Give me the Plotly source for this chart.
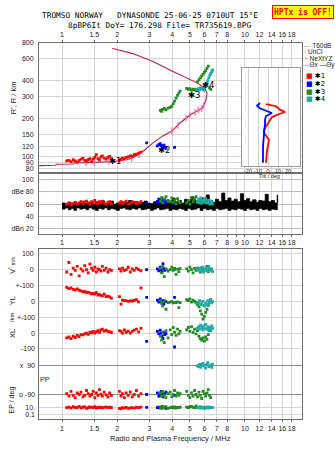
import math
import plotly.graph_objects as go

W, H = 335, 451


def px(x):
    return x / W


def py(y):
    return 1 - y / H


# ---------------- axis ticks ----------------
FREQ_TICKS = [1, 1.5, 2, 3, 4, 5, 6, 7, 8, 10, 12, 14, 16, 18]
FREQ_TICKS_AMP = [1, 1.5, 2, 3, 4, 5, 6, 7, 8, 9, 10, 12, 14, 16, 18]
HEIGHT_TICKS = [80, 90, 100, 120, 150, 200, 300, 400, 600, 800]
AMP_TICKS = [100, 80, 60, 40, 20]
AMP_LABELS = ["100", "dBe 80", "60", "40", "dBn 20"]
TILT_TICKS = [-20, -10, 0, 10, 20]

# ---------------- true-height profile (MHz, km) ----------------
prof_f = [0.75, 0.92, 0.93, 1.15, 1.16, 1.45, 1.60, 1.90, 2.10, 2.26, 2.44, 2.60,
          2.84, 3.14, 3.57, 3.99, 4.41, 5.00, 5.82, 6.10, 6.20, 6.04, 5.54, 4.88,
          4.04, 3.14, 2.44, 1.95, 1.88]
prof_h = [84.5, 85, 86.5, 87, 88.5, 89, 90, 91, 92.5, 94, 97.7, 103,
          113, 128, 146, 159, 184, 213, 241, 274, 317, 347, 380, 417,
          473, 567, 655, 713, 718]

# NeXtYZ inversion points
nx_f = [1.35, 1.50, 1.80, 2.40, 2.63, 3.99, 4.30, 4.76, 5.00, 5.33, 5.55, 5.80, 5.95]
nx_h = [89.5, 90, 91.5, 97, 103, 159, 176, 202, 213, 224, 233, 240, 252]

# ---------------- echo 1 (red) ----------------
red_f = [1.06, 1.09, 1.12, 1.15, 1.18, 1.21, 1.24, 1.27, 1.30, 1.33,
         1.36, 1.39, 1.42, 1.45, 1.48, 1.51, 1.54, 1.57, 1.60, 1.63,
         1.66, 1.70, 1.74, 1.78, 1.82, 1.86,
         2.06, 2.10, 2.14, 2.19, 2.24, 2.30, 2.36, 2.42, 2.48, 2.55, 2.62, 2.70]
red_h = [92, 93, 91, 94, 92, 90, 93, 95, 97, 93,
         92, 94, 96, 91, 95, 98, 103, 96, 94, 99,
         101, 97, 95, 98, 100, 96,
         93, 95, 97, 96, 98, 99, 101, 100, 103, 104, 106, 108]
red_amp = [60, 62, 59, 61, 63, 60, 62, 64, 61, 63,
           65, 62, 60, 64, 63, 66, 62, 61, 64, 63,
           65, 62, 60, 63, 64, 61,
           62, 64, 61, 63, 65, 60, 62, 64, 63, 61, 62, 64]
red_v = [-15, 45, -30, 10, -5, 20, -40, 5, -10, 25,
         0, -20, 35, 10, -5, 15, -15, 5, 0, -10,
         20, -5, 10, -15, 0, -5,
         5, -10, 10, -5, 0, 15, -15, 5, -5, 10, 0, -8]
red_yl = [88, 80, 85, 75, 72, 78, 70, 66, 60, 62,
          55, 58, 52, 48, 50, 45, 55, 40, 42, 38,
          35, 45, 30, 32, 28, 20,
          30, -18, 8, 5, 5, 0, 3, 2, 6, 10, -4, 85]
red_xl = [-30, -25, -35, -20, -28, -15, -22, -10, -12, -5,
          0, -8, 5, 2, 10, 0, 8, 15, 5, 20,
          25, 12, 18, 10, 8, 5,
          15, 10, 0, 20, 5, 12, 0, 10, 18, 25, 8, 30]
red_pp = [-85, -100, -70, -95, -110, -80, -90, -75, -105, -95,
          -65, -85, -100, -90, -70, -110, -80, -95, -60, -88,
          -100, -75, -92, -105, -80, -95,
          -70, -100, -85, -110, -80, -95, -75, -105, -90, -65, -100, -85]
red_ep = [8, 12, 6, 15, 10, 9, 20, 7, 11, 14,
          5, 9, 13, 10, 8, 16, 6, 11, 9, 12,
          7, 10, 14, 8, 11, 9,
          5, 4, 8, 6, 10, 5, 7, 9, 6, 11, 8, 12]

# ---------------- echo 2 (blue) ----------------
blue_f = [2.90, 3.32, 3.38, 3.44, 3.48, 3.52, 3.56, 3.60, 3.64, 3.70, 4.12]
blue_h = [128, 121, 124, 126, 122, 120, 118, 123, 119, 116, 118]
blue_amp = [62, 64, 68, 66, 63, 70, 65, 67, 62, 64, 60]
blue_v = [0, 5, -8, 15, 0, -15, 37, 8, -5, 2, 3]
blue_yl = [25, 8, -5, 15, 0, -12, 5, -18, 3, -2, 25]
blue_xl = [-52, 10, -5, 18, 0, -20, -35, 5, -10, -3, -88]
blue_pp = [-90, -80, -100, -95, -70, -88, -105, -92, -85, -75, -95]
blue_ep = [10, 8, 12, 6, 9, 15, 7, 11, 10, 5, 9]

# ---------------- echo 3 (green) ----------------
green_f = [3.45, 3.50, 3.55, 3.62, 3.70, 3.80, 3.90, 3.98, 4.05, 4.12, 4.20, 4.28, 4.35, 4.42,
           4.80, 4.90, 5.00, 5.10, 5.20, 5.30, 5.40, 5.50, 5.60, 5.70, 5.80, 5.90, 6.00,
           6.10, 6.20, 6.30, 6.40, 6.50]
green_h = [232, 228, 236, 240, 234, 242, 245, 250, 262, 275, 290, 305, 318, 330,
           347, 340, 345, 336, 342, 338, 335, 390, 405, 420, 435, 450, 465,
           480, 500, 520, 350, 340]
green_amp = [65, 70, 62, 68, 72, 66, 64, 70, 63, 67, 61, 69, 65, 62,
             62, 66, 60, 70, 64, 68, 72, 63, 65, 67, 61, 64, 69,
             62, 66, 63, 60, 65]
green_v = [10, -20, 19, -44, 5, -10, 0, 15, -5, 8, -30, 3, -12, 6,
           5, -10, 15, 0, -20, 8, -5, 10, 0, -15, 12, -8, 3,
           -3, 20, -12, 5, 0]
green_yl = [5, -10, -30, 0, -50, -8, -5, -2, -10, -6, -8, -4, -40, -8,
            10, 5, 15, -5, 8, 0, -10, -20, -35, -60, -80, -112, -95,
            -70, -50, -25, -5, 10]
green_xl = [-20, -45, 5, -60, 15, -30, 20, -10, 35, 5, -15, 25, -5, 10,
            20, 35, 10, 40, 5, 25, -5, 15, -20, -35, -45, -30, -50,
            -25, -40, -10, 30, 15]
green_pp = [-80, -100, -70, -95, -110, -85, -75, -105, -90, -65, -100, -80, -95, -85,
            -70, -95, -110, -80, -100, -65, -90, -105, -75, -95, -115, -70, -85,
            -100, -80, -60, -95, -110]
green_ep = [10, 6, 12, 8, 15, 5, 9, 11, 7, 13, 6, 10, 8, 12,
            12, 8, 15, 20, 10, 9, 25, 11, 8, 14, 7, 10, 6,
            12, 9, 11, 8, 10]

# ---------------- echo 4 (cyan) ----------------
cyan_f = [5.50, 5.58, 5.65, 5.72, 5.80, 5.88, 5.95, 6.02, 6.10, 6.18, 6.26, 6.34,
          6.42, 6.50, 6.58, 6.65]
cyan_h = [340, 345, 338, 350, 342, 348, 336, 352, 360, 380, 400, 420, 440, 455, 470, 485]
cyan_amp = [64, 68, 62, 70, 66, 63, 67, 65, 69, 62, 64, 66, 61, 65, 63, 60]
cyan_v = [5, -5, 10, -10, 0, 15, -15, 3, -3, 8, -8, 20, 0, -5, 5, -12]
cyan_yl = [-5, -10, 5, -20, -15, 0, -25, -30, -10, -20, 5, -15, -5, 10, -10, -2]
cyan_xl = [30, 40, 25, 50, 35, 20, 45, 30, 55, 25, 40, 15, 35, 20, 45, 30]
cyan_pp = [90, 85, 100, 80, 95, 105, 88, 92, 75, 98, 110, 85, 90, 95, 80, 100]
cyan_ep = [8, 10, 6, 12, 9, 7, 11, 5, 10, 8, 6, 9, 12, 7, 10, 8]

# ---------------- received amplitude envelope (dB) ----------------
amp_f = [1.00, 1.04, 1.08, 1.12, 1.16, 1.20, 1.25, 1.30, 1.35, 1.40,
         1.46, 1.52, 1.58, 1.64, 1.70, 1.77, 1.84, 1.91, 1.98, 2.06,
         2.14, 2.22, 2.31, 2.40, 2.50, 2.60, 2.70, 2.81, 2.92, 3.04,
         3.16, 3.28, 3.41, 3.55, 3.69, 3.84, 3.99, 4.15, 4.32, 4.49,
         4.67, 4.85, 5.05, 5.25, 5.46, 5.68, 5.90, 6.14, 6.38, 6.64,
         6.90, 7.18, 7.46, 7.76, 8.07, 8.39, 8.73, 9.08, 9.44, 9.82,
         10.2, 10.6, 11.0, 11.5, 11.9, 12.4, 12.9, 13.4, 13.9, 14.5,
         15.0, 15.1]
amp_hi = [62, 58, 63, 60, 64, 59, 62, 65, 61, 63,
          60, 64, 62, 66, 61, 63, 65, 60, 62, 64,
          61, 63, 66, 62, 64, 60, 63, 65, 62, 61,
          64, 66, 63, 68, 62, 65, 70, 64, 66, 62,
          68, 65, 72, 66, 64, 70, 67, 75, 66, 63,
          68, 64, 78, 66, 70, 65, 68, 64, 77, 66,
          69, 64, 67, 63, 66, 65, 76, 64, 66, 62,
          75, 62]
amp_lo = [52, 54, 51, 53, 50, 54, 52, 53, 51, 54,
          52, 50, 53, 52, 54, 51, 53, 52, 50, 53,
          54, 52, 51, 53, 52, 54, 51, 52, 53, 50,
          52, 54, 51, 52, 53, 50, 52, 51, 53, 52,
          50, 53, 51, 52, 54, 50, 53, 51, 52, 50,
          53, 51, 52, 53, 50, 52, 51, 53, 52, 50,
          53, 51, 52, 50, 53, 51, 52, 50, 52, 51,
          53, 52]

# ---------------- wave-vector tilt profiles ----------------
tx_h = [89, 110, 135, 145, 154, 168, 185, 205, 215, 225, 235, 250, 260]
tx_v = [-2, -1, 1, -2, -4, -3, 0, 4, 10, 17, 12, 8, -2]
ty_h = [89, 120, 150, 160, 177, 195, 209, 215, 221, 230, 241, 252, 265]
ty_v = [-5, -5, -4, -4, -3, -3, -2, 2, 4, -2, -8, -11, -8]

# ---------------- styling ----------------
RED, BLUE, GREEN, CYAN = "#ff0000", "#0000ff", "#228b22", "#20aaaa"
PROFILE = "#b81e50"
PINK = "#ff6aa8"
GRID = "#d6d6d6"
FRAME = "#6e6e6e"
FONT = "Liberation Sans, Arial, sans-serif"
TICKFONT = dict(family=FONT, size=7, color="#222222")
FRANGE = [math.log10(0.748), math.log10(20.5)]

echoes = [
    (red_f, red_h, red_amp, red_v, red_yl, red_xl, red_pp, red_ep, RED),
    (blue_f, blue_h, blue_amp, blue_v, blue_yl, blue_xl, blue_pp, blue_ep, BLUE),
    (green_f, green_h, green_amp, green_v, green_yl, green_xl, green_pp, green_ep, GREEN),
    (cyan_f, cyan_h, cyan_amp, cyan_v, cyan_yl, cyan_xl, cyan_pp, cyan_ep, CYAN),
]

fig = go.Figure()


def sq(color):
    return dict(symbol="square", size=2.8, color=color, line=dict(width=0))


# height panel: profile line, NeXtYZ points, echoes
fig.add_trace(go.Scatter(x=prof_f, y=prof_h, mode="lines",
                         line=dict(color=PROFILE, width=1.1), xaxis="x", yaxis="y"))
fig.add_trace(go.Scatter(x=nx_f, y=nx_h, mode="markers",
                         marker=dict(symbol="line-ns", size=5, line=dict(color=PINK, width=1.2)),
                         xaxis="x", yaxis="y"))
for f, h, a, v, yl, xl, pp, ep, c in echoes:
    fig.add_trace(go.Scatter(x=f, y=h, mode="markers", marker=sq(c), xaxis="x", yaxis="y"))

# amplitude panel
fig.add_trace(go.Scatter(x=amp_f, y=amp_lo, mode="lines", line=dict(color="black", width=0.6, shape="hv"),
                         xaxis="x2", yaxis="y2"))
fig.add_trace(go.Scatter(x=amp_f, y=amp_hi, mode="lines", fill="tonexty", fillcolor="black",
                         line=dict(color="black", width=0.8, shape="hv"), xaxis="x2", yaxis="y2"))
for f, h, a, v, yl, xl, pp, ep, c in echoes:
    fig.add_trace(go.Scatter(x=f, y=a, mode="markers", marker=sq(c), xaxis="x2", yaxis="y2"))

# stacked parameter panel: V*, YL, XL, PP, EP share one frame
for f, h, a, v, yl, xl, pp, ep, c in echoes:
    for vals, ya in ((v, "y3"), (yl, "y4"), (xl, "y5"), (pp, "y6"), (ep, "y7")):
        fig.add_trace(go.Scatter(x=f, y=vals, mode="markers", marker=sq(c), xaxis="x3", yaxis=ya))

# tilt inset
fig.add_trace(go.Scatter(x=tx_v, y=tx_h, mode="lines", line=dict(color=RED, width=1.8),
                         xaxis="x4", yaxis="y8"))
fig.add_trace(go.Scatter(x=ty_v, y=ty_h, mode="lines", line=dict(color=BLUE, width=1.8),
                         xaxis="x4", yaxis="y8"))


def freq_axis(anchor, side, ticks, **kw):
    d = dict(type="log", range=FRANGE, domain=[px(39), px(302)], anchor=anchor, side=side,
             tickvals=ticks, ticktext=[("%g" % t) for t in ticks], tickfont=TICKFONT,
             tickangle=0, showgrid=True, gridcolor=GRID, gridwidth=1, showline=True, mirror=True,
             linecolor=FRAME, linewidth=1, ticks="outside", ticklen=2, tickcolor=FRAME,
             zeroline=False, fixedrange=True)
    d.update(kw)
    return d


def lower_axis(rng, tickvals, ticktext, gridcolor=GRID, **kw):
    d = dict(range=rng, tickvals=tickvals, ticktext=ticktext, tickfont=TICKFONT,
             showgrid=True, gridcolor=gridcolor, zeroline=False, anchor="x3",
             ticks="", ticklabelstandoff=3)
    d.update(kw)
    return d


lower_dom = [py(419), py(247)]

fig.update_layout(
    width=W, height=H, margin=dict(l=0, r=0, t=0, b=0),
    paper_bgcolor="white", plot_bgcolor="white", showlegend=False,
    xaxis=freq_axis("y", "top", FREQ_TICKS),
    xaxis2=freq_axis("y2", "bottom", FREQ_TICKS_AMP, matches="x"),
    xaxis3=freq_axis("y3", "bottom", FREQ_TICKS, matches="x"),
    xaxis4=dict(domain=[px(242), px(300)], range=[-26, 32], anchor="y8",
                tickvals=TILT_TICKS, ticktext=[str(t) for t in TILT_TICKS], tickangle=0,
                tickfont=dict(family=FONT, size=5.5, color="#222"), ticks="", ticklabelstandoff=0,
                showgrid=True, gridcolor="#cfcfcf", showline=True, mirror=True,
                linecolor="#9a9a9a", zeroline=False),
    yaxis=dict(type="log", range=[1.872, math.log10(800)], domain=[py(170), py(39)], anchor="x",
               tickvals=HEIGHT_TICKS, ticktext=[str(t) for t in HEIGHT_TICKS], tickfont=TICKFONT,
               showgrid=True, gridcolor=GRID, showline=True, mirror=True, linecolor=FRAME,
               ticks="", ticklabelstandoff=3, zeroline=False),
    yaxis2=dict(range=[12, 108], domain=[py(232), py(172)], anchor="x2",
                tickvals=AMP_TICKS, ticktext=AMP_LABELS, tickfont=TICKFONT,
                showgrid=True, gridcolor="#bdbdbd", showline=True, mirror=True, linecolor=FRAME,
                ticks="", ticklabelstandoff=3, zeroline=False),
    yaxis3=lower_axis([-943.75, 131.25], [100, 0, -100], ["100", "0", "+-100"],
                      domain=lower_dom, showline=True, mirror=True, linecolor=FRAME),
    yaxis4=lower_axis([-743.75, 331.25], [0, -100], ["0", "+-100"], overlaying="y3"),
    yaxis5=lower_axis([-543.75, 531.25], [0, -100], ["0", "-100"], overlaying="y3"),
    yaxis6=lower_axis([-245.2, 822.4], [90, -90], ["x  90", "o -90"], gridcolor="#8c8c8c",
                      overlaying="y3"),
    yaxis7=lower_axis([-2.43, 46.71], [10, 0.1], ["10.", "0.1"], type="log", overlaying="y3"),
    yaxis8=dict(type="log", range=[1.927, 2.698], domain=[py(163), py(65)], anchor="x4",
                showticklabels=False, showgrid=False, showline=True, mirror=True,
                linecolor="#9a9a9a", ticks="", zeroline=False),
)

ann = []


def text(x, y, s, size=7, color="#222222", angle=0, xanchor="center", family=FONT, **kw):
    d = dict(x=px(x), y=py(y), xref="paper", yref="paper", text=s, showarrow=False,
             font=dict(family=family, size=size, color=color), textangle=angle,
             xanchor=xanchor, yanchor="middle")
    d.update(kw)
    ann.append(d)


MONO = "DejaVu Sans Mono, monospace"
text(150, 11.8, "TROMSO NORWAY   DYNASONDE 25-06-25 0710UT 15°E", size=7.8, color="black", family=MONO)
text(159, 21.2, "8pBP6It DoY= 176.298 File= TR735619.BPG", size=7.8, color="black", family=MONO)
text(302.5, 8.5, "<b>HPTx is OFF!</b>", size=8, color="#ff0000", family=MONO,
     bgcolor="#ffff00", bordercolor="#ff0000", borderwidth=1, borderpad=1)

# axis titles
text(13, 95, "R', R / km", size=7.5, angle=-90)
text(170, 438, "Radio and Plasma Frequency / MHz", size=7.5)
text(269, 174, "Tilt / deg", size=5.5)
text(12, 264, "V<sup>*</sup> <span style='font-size:5px'>m/s</span>", size=7, angle=-90)
text(12, 300, "YL", size=7.5, angle=-90)
text(12, 316, "/km", size=6, angle=-90)
text(12, 333, "XL", size=7.5, angle=-90)
text(45, 379, "PP", size=7)
text(12, 400, "EP / deg", size=7, angle=-90)

# legend column
text(302, 42, "<span style='color:#9a9a9a'>—</span> T60dB", size=6.5, xanchor="left")
text(302, 48, "<span style='color:#555'>·</span> UnCl", size=6.5, xanchor="left")
text(302, 55, "<span style='color:%s'>+</span> NeXtYZ" % PINK, size=6.5, xanchor="left")
text(301, 62, "<span style='color:%s'>—</span>Θx <span style='color:%s'>—</span>Θy" % (PINK, BLUE),
     size=6.5, xanchor="left")
for i, c in enumerate([RED, BLUE, GREEN, CYAN]):
    text(304, 73 + i * 7.7, "<span style='color:%s'>■</span> ✱%d" % (c, i + 1), size=7,
         color="black", xanchor="left", family="DejaVu Sans, sans-serif")

# echo trace labels in the height panel
for lbl, f, h in (("✱1", 1.97, 92.5), ("✱2", 3.65, 113), ("✱3", 5.33, 306), ("✱4", 6.28, 367)):
    ann.append(dict(x=math.log10(f), y=math.log10(h), xref="x", yref="y", text=lbl,
                    showarrow=False, font=dict(family="DejaVu Sans, sans-serif", size=8.5,
                                               color="black")))

fig.update_layout(annotations=ann)
fig.write_html("out.html")
